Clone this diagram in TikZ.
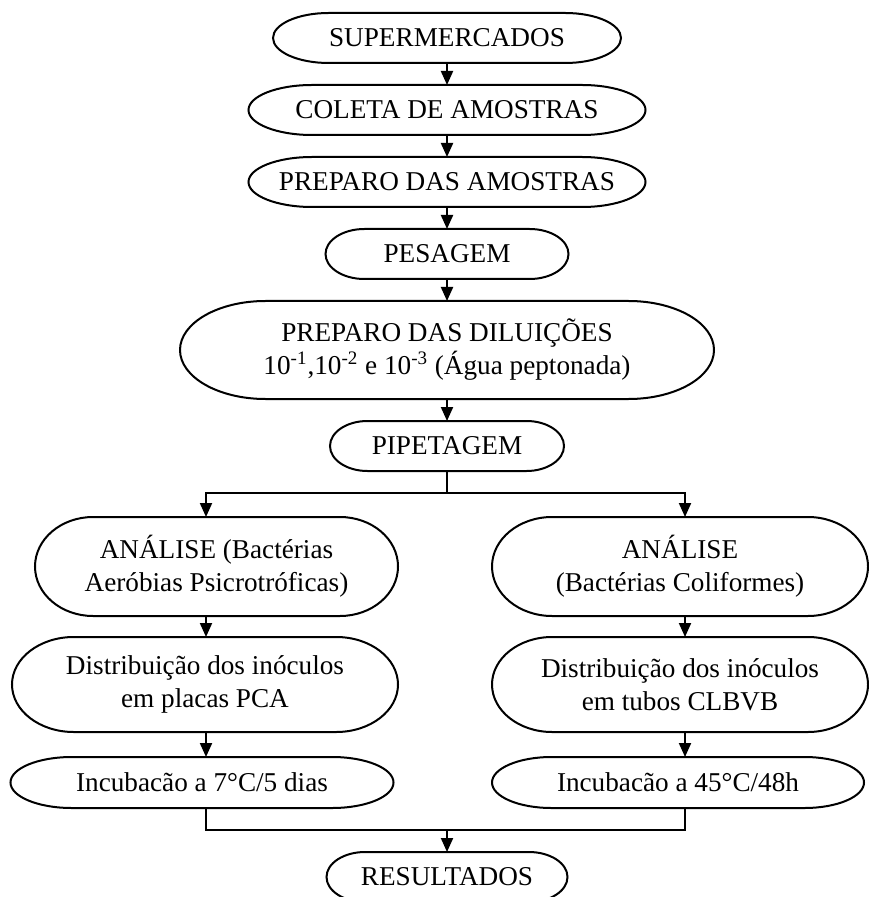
\documentclass[tikz,border=0pt]{standalone}
\usepackage{fontspec}
\setmainfont{Liberation Serif}
\usetikzlibrary{arrows.meta,calc}

\newcommand{\flowfont}{\fontsize{13.6pt}{16.5pt}\selectfont}
% outline of a terminator box: straight top and bottom, elliptic ends
\newcommand{\termoutline}[1]{%
  \draw let \p1=(#1.north east), \p2=(#1.south west),
    \n1={0.16*(\x1-\x2)}, \n2={(\y1-\y2)/2} in
    ([xshift=\n1]#1.north west) -- ([xshift=-\n1]#1.north east)
    arc[start angle=90, end angle=-90, x radius=\n1, y radius=\n2]
    -- ([xshift=\n1]#1.south west)
    arc[start angle=270, end angle=90, x radius=\n1, y radius=\n2] -- cycle;}

\begin{document}
\begin{tikzpicture}[x=0.5pt, y=-0.5pt, line width = 1pt,
    term/.style 2 args={minimum width=#1, minimum height=#2, inner sep=0pt,
      align=center, font=\flowfont},
    flow/.style={-{Triangle[width=6pt,length=7pt]}}]
\useasboundingbox (0,0) rectangle (868,897);
\path (447,38) node[term={173pt}{24pt}](sup){SUPERMERCADOS}
    (447,110) node[term={197.5pt}{24pt}](col){COLETA DE AMOSTRAS}
    (447,182) node[term={197.5pt}{24pt}](prep){PREPARO DAS AMOSTRAS}
    (447,254) node[term={120.5pt}{24pt}](pes){PESAGEM}
    (447,350) node[term={266pt}{48pt}](dil){PREPARO DAS DILUIÇÕES\\
      10\textsuperscript{-1},10\textsuperscript{-2} e 10\textsuperscript{-3} (Água peptonada)}
    (447,446) node[term={116pt}{24pt}](pip){PIPETAGEM}
    (216.5,566.5) node[term={180.5pt}{48.5pt}](anlA){ANÁLISE (Bactérias\\Aeróbias Psicrotróficas)}
    (680,566.5) node[term={187pt}{48.5pt}](anlB){ANÁLISE\\(Bactérias Coliformes)}
    (205,684.5) node[term={192pt}{46.5pt}](distA){Distribuição dos inóculos\\em placas PCA}
    (680,684.5) node[term={187pt}{46.5pt}](distB){Distribuição dos inóculos\\em tubos CLBVB}
    (202,782.5) node[term={190.5pt}{24.5pt}](incA){Incubacão a 7°C/5 dias}
    (678,782.5) node[term={185pt}{24.5pt}](incB){Incubacão a 45°C/48h}
    (447,877) node[term={119.5pt}{24pt}](res){RESULTADOS};
\foreach \nd in {sup,col,prep,pes,dil,pip,anlA,anlB,distA,distB,incA,incB,res}
  \termoutline{\nd};
\coordinate (colA) at (206,0);
\coordinate (colB) at (685,0);
\coordinate (fork) at (447,493);
\coordinate (join) at (447,830);
% main column
\draw [flow] (sup) -- (col);
\draw [flow] (col) -- (prep);
\draw [flow] (prep) -- (pes);
\draw [flow] (pes) -- (dil);
\draw [flow] (dil) -- (pip);
% split into the two analyses
\draw (pip) -- (fork);
\draw [flow] (fork) -| (colA |- anlA.north);
\draw [flow] (fork) -| (colB |- anlB.north);
\draw [flow] (anlA.south -| colA) -- (distA.north -| colA);
\draw [flow] (distA.south -| colA) -- (incA.north -| colA);
\draw [flow] (anlB.south -| colB) -- (distB.north -| colB);
\draw [flow] (distB.south -| colB) -- (incB.north -| colB);
% join
\draw (incA.south -| colA) |- (join) -| (incB.south -| colB);
\draw [flow] (join) -- (res);
\end{tikzpicture}
\end{document}
